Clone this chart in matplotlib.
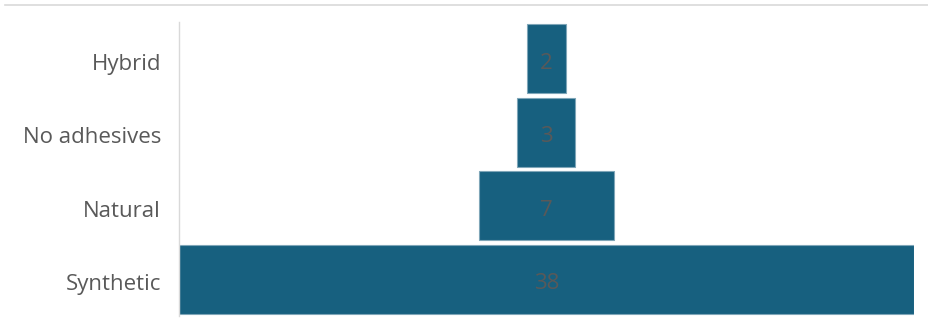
import matplotlib.pyplot as plt
import matplotlib.transforms as mtransforms
from matplotlib.lines import Line2D

# Funnel of adhesive types (top to bottom)
categories = ["Hybrid", "No adhesives", "Natural", "Synthetic"]
counts = [2, 3, 7, 38]

BAR_COLOR = "#17607f"
TEXT_COLOR = "#595959"

plt.rcParams["font.family"] = ["Open Sans", "DejaVu Sans"]

fig = plt.figure(figsize=(9.29, 3.31), dpi=100)
ax = fig.add_axes([179 / 929, 1 - 316 / 331, (913.7 - 179) / 929, (316 - 22) / 331])

half_max = max(counts) / 2
for i, (name, val) in enumerate(zip(categories, counts)):
    ax.barh(i, val, left=-val / 2, height=0.935, color=BAR_COLOR,
            edgecolor="#7fa6b8", linewidth=0.8)
    ax.text(0, i + 0.03, str(val), ha="center", va="center_baseline",
            fontsize=16, color=TEXT_COLOR)

ax.set_xlim(-half_max, half_max)
ax.set_ylim(len(categories) - 0.5, -0.5)
ax.set_yticks(range(len(categories)))
ax.set_yticklabels(categories, fontsize=16, color=TEXT_COLOR)
ax.tick_params(axis="y", length=0, pad=13)
ax.set_xticks([])

# nudge the category labels down a little
shift = mtransforms.ScaledTranslation(0, -2 / 72, fig.dpi_scale_trans)
for lbl in ax.get_yticklabels():
    lbl.set_transform(lbl.get_transform() + shift)

for side in ["top", "right", "bottom"]:
    ax.spines[side].set_visible(False)
ax.spines["left"].set_color("#d9d9d9")
ax.spines["left"].set_linewidth(1.0)

# thin frame line across the top of the figure
fig.add_artist(Line2D([5 / 929, 1], [1 - 5 / 331, 1 - 5 / 331],
                      transform=fig.transFigure, color="#d9d9d9", linewidth=1.2))

fig.savefig("out.png", dpi=100)
